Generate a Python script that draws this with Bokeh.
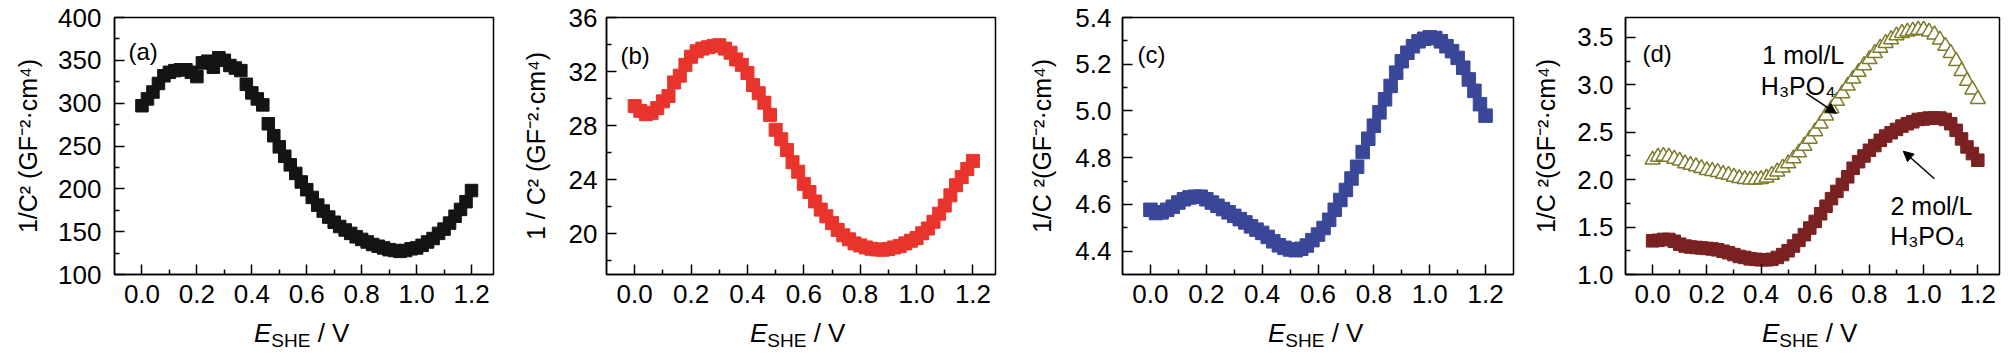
from bokeh.plotting import figure
from bokeh.layouts import row, column
from bokeh.models import FixedTicker, Label, Arrow, NormalHead, Range1d, NumeralTickFormatter, Div
from bokeh.embed import file_html
from bokeh.resources import INLINE

# ---------------- data ----------------
e_she = [0.00, 0.02, 0.04, 0.06, 0.08, 0.10, 0.12, 0.14, 0.16, 0.18,
         0.20, 0.22, 0.24, 0.26, 0.28, 0.30, 0.32, 0.34, 0.36, 0.38,
         0.40, 0.42, 0.44, 0.46, 0.48, 0.50, 0.52, 0.54, 0.56, 0.58,
         0.60, 0.62, 0.64, 0.66, 0.68, 0.70, 0.72, 0.74, 0.76, 0.78,
         0.80, 0.82, 0.84, 0.86, 0.88, 0.90, 0.92, 0.94, 0.96, 0.98,
         1.00, 1.02, 1.04, 1.06, 1.08, 1.10, 1.12, 1.14, 1.16, 1.18, 1.20]

inv_c2_a = [297, 305, 313, 323, 332, 336, 338, 339, 339, 336,
            331, 347, 349, 342, 353, 350, 344, 341, 338, 322,
            312, 305, 298, 276, 262, 249, 238, 228, 218, 208,
            199, 190, 181, 174, 167, 161, 156, 152, 148, 144,
            141, 138, 135, 133, 131, 129, 128, 127, 128, 130,
            131, 134, 138, 142, 148, 153, 160, 168, 176, 185, 198]

inv_c2_b = [29.45, 29.1, 28.85, 28.95, 29.3, 29.8, 30.2, 31.2, 31.7, 32.5,
            33.1, 33.5, 33.7, 33.8, 33.9, 33.95, 33.7, 33.4, 32.9, 32.5,
            31.9, 31.0, 30.4, 29.7, 28.8, 27.7, 27.0, 26.2, 25.3, 24.6,
            23.7, 23.1, 22.4, 21.8, 21.3, 20.8, 20.3, 19.9, 19.6, 19.3,
            19.15, 19.0, 18.9, 18.85, 18.83, 18.88, 19.0, 19.1, 19.3, 19.5,
            19.7, 20.05, 20.4, 20.9, 21.5, 22.1, 22.85, 23.6, 24.2, 24.8, 25.4]

inv_c2_c = [4.577, 4.563, 4.566, 4.577, 4.590, 4.608, 4.622, 4.630, 4.633, 4.633,
            4.622, 4.608, 4.594, 4.580, 4.566, 4.551, 4.537, 4.523, 4.506, 4.492,
            4.478, 4.461, 4.442, 4.425, 4.414, 4.407, 4.404, 4.410, 4.424, 4.447,
            4.471, 4.499, 4.534, 4.577, 4.619, 4.662, 4.711, 4.761, 4.824, 4.881,
            4.937, 4.994, 5.050, 5.107, 5.164, 5.213, 5.249, 5.277, 5.298, 5.309,
            5.315, 5.312, 5.298, 5.277, 5.256, 5.227, 5.185, 5.135, 5.086, 5.029, 4.980]

inv_c2_d_1mol = [2.21, 2.24, 2.25, 2.24, 2.22, 2.20, 2.17, 2.155, 2.14, 2.12,
                 2.10, 2.09, 2.08, 2.06, 2.05, 2.03, 2.015, 2.005, 2.00, 2.00,
                 2.005, 2.02, 2.05, 2.085, 2.126, 2.17, 2.224, 2.286, 2.356, 2.43,
                 2.51, 2.59, 2.676, 2.75, 2.83, 2.91, 2.99, 3.065, 3.135, 3.205,
                 3.27, 3.335, 3.39, 3.44, 3.48, 3.52, 3.545, 3.56, 3.57, 3.58,
                 3.58, 3.56, 3.53, 3.475, 3.41, 3.335, 3.25, 3.145, 3.04, 2.95, 2.85]

inv_c2_d_2mol = [1.355, 1.36, 1.37, 1.37, 1.35, 1.32, 1.30, 1.29, 1.285, 1.28,
                 1.275, 1.27, 1.26, 1.245, 1.23, 1.21, 1.19, 1.18, 1.165, 1.16,
                 1.155, 1.155, 1.16, 1.18, 1.21, 1.25, 1.30, 1.36, 1.42, 1.49,
                 1.56, 1.64, 1.72, 1.80, 1.876, 1.95, 2.03, 2.12, 2.19, 2.25,
                 2.31, 2.36, 2.415, 2.46, 2.495, 2.53, 2.565, 2.59, 2.61, 2.635,
                 2.64, 2.65, 2.65, 2.65, 2.635, 2.59, 2.52, 2.43, 2.345, 2.275, 2.205]

x_ticks = [0.0, 0.2, 0.4, 0.6, 0.8, 1.0, 1.2]
x_minor = [0.1, 0.3, 0.5, 0.7, 0.9, 1.1]

a_yticks = [100, 150, 200, 250, 300, 350, 400]
a_yminor = [125, 175, 225, 275, 325, 375]
b_yticks = [20, 24, 28, 32, 36]
b_yminor = [18, 22, 26, 30, 34]
c_yticks = [4.4, 4.6, 4.8, 5.0, 5.2, 5.4]
c_yminor = [4.5, 4.7, 4.9, 5.1, 5.3]
d_yticks = [1.0, 1.5, 2.0, 2.5, 3.0, 3.5]
d_yminor = [1.25, 1.75, 2.25, 2.75, 3.25]

panel_tags = ["(a)", "(b)", "(c)", "(d)"]
ylabel_a = "1/C² (GF⁻²·cm⁴)"
ylabel_b = "1 / C² (GF⁻²·cm⁴)"
ylabel_c = "1/C ²(GF⁻²·cm⁴)"
label_1mol = ["1 mol/L", "H₃PO₄"]
label_2mol = ["2 mol/L", "H₃PO₄"]

# ---------------- style ----------------
FONT = "Liberation Sans"
H = 318
BLACK = "black"
COL_A = "#141414"
COL_B = "#e8342c"
COL_C = "#3a4799"
COL_D1 = "#7d7a2a"
COL_D2 = "#7a2121"


def make_fig(width, bl, br, bt, yr, yticks, yminor, yfmt, ystand, ylabel, lstand,
             xr=(-0.1, 1.28), bottom=275):
    p = figure(width=width, height=H, output_backend="svg", toolbar_location=None,
               x_range=Range1d(*xr), y_range=Range1d(*yr),
               min_border_left=bl, min_border_right=br,
               min_border_top=bt, min_border_bottom=H - bottom)
    p.grid.visible = False
    p.outline_line_color = BLACK
    p.outline_line_width = 1.5
    p.background_fill_color = "white"
    p.border_fill_color = "white"
    p.xaxis.ticker = FixedTicker(ticks=x_ticks, minor_ticks=x_minor)
    p.yaxis.ticker = FixedTicker(ticks=yticks, minor_ticks=yminor)
    p.xaxis.formatter = NumeralTickFormatter(format="0.0")
    p.yaxis.formatter = NumeralTickFormatter(format=yfmt)
    for ax in (p.xaxis[0], p.yaxis[0]):
        ax.axis_line_width = 1.5
        ax.axis_line_color = BLACK
        ax.major_tick_in = 10
        ax.major_tick_out = 0
        ax.minor_tick_in = 5
        ax.minor_tick_out = 0
        ax.major_tick_line_width = 1.5
        ax.minor_tick_line_width = 1.5
        ax.major_tick_line_color = BLACK
        ax.minor_tick_line_color = BLACK
        ax.major_label_text_font = FONT
        ax.major_label_text_font_size = "26px"
        ax.major_label_text_color = BLACK
    p.xaxis.major_label_standoff = 10
    p.yaxis.major_label_standoff = ystand
    p.yaxis.axis_label = ylabel
    p.yaxis.axis_label_text_font = FONT
    p.yaxis.axis_label_text_font_size = "25px"
    p.yaxis.axis_label_text_font_style = "normal"
    p.yaxis.axis_label_text_color = BLACK
    p.yaxis.axis_label_standoff = lstand
    return p


def add_text(p, x, y, text, size="24px", align="left", units="screen"):
    p.add_layout(Label(x=x, y=y, x_units=units, y_units=units, text=text,
                       text_font=FONT, text_font_size=size, text_align=align,
                       text_baseline="alphabetic", text_color=BLACK))


# panel (a)
wa, bla, bra, bta = 510, 114, 17, 16
pa = make_fig(wa, bla, bra, bta, (100, 400), a_yticks, a_yminor, "0", 13, ylabel_a, 13, bottom=275)
pa.scatter(e_she, inv_c2_a, marker="square", size=12.5, fill_color=COL_A, line_color=COL_A)
fha = 275 - bta
add_text(pa, 14, fha - 36, panel_tags[0])

# panel (b)
wb, blb, brb, btb = 502, 96, 17, 17
pb = make_fig(wb, blb, brb, btb, (17, 36), b_yticks, b_yminor, "0", 9, ylabel_b, 16, bottom=277)
pb.scatter(e_she, inv_c2_b, marker="square", size=13, fill_color=COL_B, line_color=COL_B)
fhb = 277 - btb
add_text(pb, 14, fhb - 41, panel_tags[1])

# panel (c)
wc, blc, brc, btc = 506, 110, 5, 16
pc = make_fig(wc, blc, brc, btc, (4.3, 5.4), c_yticks, c_yminor, "0.0", 11, ylabel_c, 16,
              xr=(-0.1, 1.3), bottom=275)
pc.scatter(e_she, inv_c2_c, marker="square", size=13.5, fill_color=COL_C, line_color=COL_C)
fhc = 275 - btc
add_text(pc, 15, fhc - 39, panel_tags[2])

# panel (d)
wd, bld, brd, btd = 490, 107, 9, 14
pd = make_fig(wd, bld, brd, btd, (1.0, 3.71), d_yticks, d_yminor, "0.0", 12, ylabel_c, 14, bottom=274)
pd.scatter(e_she, inv_c2_d_2mol, marker="square", size=12.5, fill_color=COL_D2, line_color=COL_D2)
pd.scatter(e_she, inv_c2_d_1mol, marker="triangle", size=15, fill_color="white",
           line_color=COL_D1, line_width=1.5)
fhd = 274 - btd
add_text(pd, 17, fhd - 39, panel_tags[3])

# annotations in panel (d), data coordinates
add_text(pd, 0.556, 3.315, label_1mol[0], size="25px", align="center", units="data")
add_text(pd, 0.537, 2.99, label_1mol[1], size="25px", align="center", units="data")
add_text(pd, 1.029, 1.72, label_2mol[0], size="25px", align="center", units="data")
add_text(pd, 1.014, 1.407, label_2mol[1], size="25px", align="center", units="data")
arrow_1mol = (0.567, 2.91, 0.678, 2.70)
arrow_2mol = (1.04, 2.01, 0.925, 2.30)
for (xs, ys, xe, ye) in (arrow_1mol, arrow_2mol):
    pd.add_layout(Arrow(end=NormalHead(size=10, fill_color=BLACK, line_color=BLACK),
                        x_start=xs, y_start=ys, x_end=xe, y_end=ye,
                        line_color=BLACK, line_width=1.5))

# x-axis titles (italic E with subscript SHE) below each panel, one strip for all panels
spans = []
x0 = 0
for w, bl, br in ((wa, bla, bra), (wb, blb, brb), (wc, blc, brc), (wd, bld, brd)):
    left = int(round(x0 + bl + (w - bl - br) / 2.0 - 50))
    spans.append(
        '<div style="position:absolute; left:%dpx; top:0px; font-size:26px; line-height:30px; '
        'white-space:nowrap;"><span style="font-style:italic;">E</span>'
        '<span style="font-size:19px; position:relative; top:5px;">SHE</span> / V</div>' % left)
    x0 += w
strip = ('<div style="position:relative; width:%dpx; height:44px; margin:0; padding:0; '
         'font-family:\'Liberation Sans\', Arial, sans-serif; color:black;">%s</div>') % (x0, "".join(spans))
xlabel_strip = Div(text=strip, width=x0, height=44, margin=(0, 0, 0, 0))

layout = column(row(pa, pb, pc, pd), xlabel_strip)
open("out.html", "w").write(file_html(layout, INLINE))
